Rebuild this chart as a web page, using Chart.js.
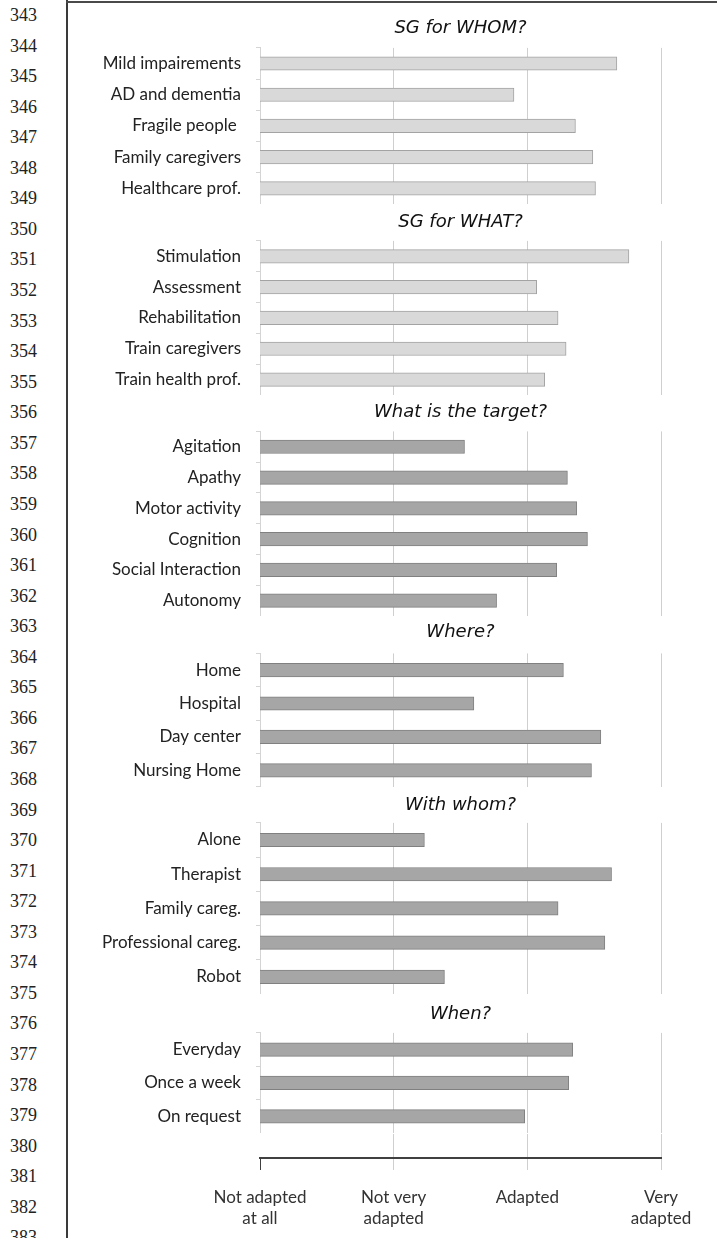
<!DOCTYPE html>
<html>
<head>
<meta charset="utf-8">
<title>Serious games - how adapted</title>
<script src="https://cdn.jsdelivr.net/npm/chart.js@4.4.0/dist/chart.umd.min.js"></script>
<style>
  html, body { margin: 0; padding: 0; background: #fff; }
  body { width: 717px; height: 1238px; position: relative; overflow: hidden; }
  .frame-left { position: absolute; left: 66px; top: 0; width: 2px; height: 1238px; background: #3a3a3a; }
  .frame-top { position: absolute; left: 66px; top: 1px; width: 651px; height: 2px; background: #4a4a4a; }
  .lineno { position: absolute; left: 10px; font: 18px "Liberation Serif", serif; color: #222; line-height: 20px; }
  canvas { position: absolute; left: 68px; }
</style>
</head>
<body>
<div class="frame-left"></div>
<div class="frame-top"></div>
<div id="numbers"></div>
<canvas id="whom"></canvas>
<canvas id="what"></canvas>
<canvas id="target"></canvas>
<canvas id="where"></canvas>
<canvas id="withwhom"></canvas>
<canvas id="when"></canvas>
<canvas id="axis"></canvas>
<script>
// scale: 1 = not adapted at all ... 4 = very adapted
const scaleValues = [1, 2, 3, 4];
const scaleLabels = [['Not adapted', 'at all'], ['Not very', 'adapted'], 'Adapted', ['Very', 'adapted']];

const whomLabels = ['Mild impairements', 'AD and dementia', 'Fragile people ', 'Family caregivers', 'Healthcare prof.'];
const whomValues = [3.67, 2.90, 3.36, 3.49, 3.51];

const whatLabels = ['Stimulation', 'Assessment', 'Rehabilitation', 'Train caregivers', 'Train health prof.'];
const whatValues = [3.76, 3.07, 3.23, 3.29, 3.13];

const targetLabels = ['Agitation', 'Apathy', 'Motor activity', 'Cognition', 'Social Interaction', 'Autonomy'];
const targetValues = [2.53, 3.30, 3.37, 3.45, 3.22, 2.77];

const whereLabels = ['Home', 'Hospital', 'Day center', 'Nursing Home'];
const whereValues = [3.27, 2.60, 3.55, 3.48];

const withWhomLabels = ['Alone', 'Therapist', 'Family careg.', 'Professional careg.', 'Robot'];
const withWhomValues = [2.23, 3.63, 3.23, 3.58, 2.38];

const whenLabels = ['Everyday', 'Once a week', 'On request'];
const whenValues = [3.34, 3.31, 2.98];

const CANVAS_W = 649;
const AXIS_W = 192;      // y label column, so plot starts at x=260
const RIGHT_PAD = 56;    // plot ends at x=661
const TITLE_LINE = 19.8;
const LABEL_FONT = { family: 'Lato', size: 17 };

const panels = [
  { id: 'whom', title: 'SG for WHOM?', labels: whomLabels, values: whomValues, light: true, titleY: 28, top: 48, step: 31.2 },
  { id: 'what', title: 'SG for WHAT?', labels: whatLabels, values: whatValues, light: true, titleY: 222, top: 241, step: 30.8 },
  { id: 'target', title: 'What is the target?', labels: targetLabels, values: targetValues, light: false, titleY: 412, top: 431.5, step: 30.8 },
  { id: 'where', title: 'Where?', labels: whereLabels, values: whereValues, light: false, titleY: 632, top: 653.5, step: 33.3 },
  { id: 'withwhom', title: 'With whom?', labels: withWhomLabels, values: withWhomValues, light: false, titleY: 805, top: 823, step: 34.25 },
  { id: 'when', title: 'When?', labels: whenLabels, values: whenValues, light: false, titleY: 1014, top: 1033, step: 33.5 }
];

function drawLineNumbers() {
  const box = document.getElementById('numbers');
  for (let n = 343; n <= 383; n++) {
    const div = document.createElement('div');
    div.className = 'lineno';
    div.textContent = n;
    div.style.top = (15 + (n - 343) * 30.56 - 10) + 'px';
    box.appendChild(div);
  }
}

function makePanel(panel) {
  const canvas = document.getElementById(panel.id);
  const canvasTop = panel.titleY - TITLE_LINE / 2;
  const height = panel.top - canvasTop + panel.step * panel.labels.length;
  canvas.width = CANVAS_W;
  canvas.height = Math.round(height);
  canvas.style.top = canvasTop + 'px';

  new Chart(canvas, {
    type: 'bar',
    data: {
      labels: panel.labels,
      datasets: [{
        data: panel.values,
        backgroundColor: panel.light ? '#d9d9d9' : '#a6a6a6',
        borderColor: panel.light ? '#a3a3a3' : '#808080',
        borderWidth: 1,
        borderSkipped: false,
        barThickness: 13.5
      }]
    },
    options: {
      indexAxis: 'y',
      responsive: false,
      animation: false,
      layout: { padding: { top: 0, right: RIGHT_PAD, bottom: 0, left: 0 } },
      plugins: {
        legend: { display: false },
        tooltip: { enabled: false },
        title: {
          display: true,
          text: panel.title,
          fullSize: false,
          color: '#111',
          font: { family: 'DejaVu Sans', style: 'italic', weight: 'normal', size: 18, lineHeight: 1.1 },
          padding: { top: 0, bottom: panel.top - panel.titleY - TITLE_LINE / 2 }
        }
      },
      scales: {
        x: {
          type: 'linear',
          min: 1,
          max: 4,
          ticks: { display: false, stepSize: 1 },
          border: { display: false },
          grid: {
            color: ctx => ctx.tick && ctx.tick.value === 1 ? 'rgba(0,0,0,0)' : '#cfcfcf',
            drawTicks: false
          },
          afterFit: scale => { scale.height = 0; }
        },
        y: {
          grid: { drawOnChartArea: false, tickLength: 4, color: '#d4d4d4', offset: true },
          border: { color: '#d4d4d4' },
          ticks: { color: '#222', padding: 15, font: LABEL_FONT },
          afterFit: scale => {
            scale.width = AXIS_W;
            // labels sit inside their bands, no extra room needed above/below
            scale.paddingTop = 0;
            scale.paddingBottom = 0;
          }
        }
      }
    }
  });
}

function makeAxis() {
  const canvas = document.getElementById('axis');
  canvas.width = CANVAS_W;
  canvas.height = 104;
  canvas.style.top = '1134px';

  new Chart(canvas, {
    type: 'bar',
    data: { labels: [''], datasets: [{ data: [] }] },
    options: {
      indexAxis: 'y',
      responsive: false,
      animation: false,
      layout: { padding: { top: 0, right: RIGHT_PAD, bottom: 0, left: AXIS_W } },
      plugins: { legend: { display: false }, tooltip: { enabled: false } },
      scales: {
        x: {
          type: 'linear',
          min: 1,
          max: 4,
          ticks: {
            stepSize: 1,
            autoSkip: false,
            maxRotation: 0,
            color: '#333',
            padding: 17,
            font: { family: 'Lato', size: 17, lineHeight: 1.25 },
            callback: v => scaleLabels[scaleValues.indexOf(v)]
          },
          grid: {
            color: ctx => ctx.index === 0 ? 'rgba(0,0,0,0)' : '#cfcfcf',
            tickColor: ctx => ctx.index === 0 ? '#404040' : '#cfcfcf',
            tickLength: 12
          },
          border: { color: '#404040', width: 2 },
          afterFit: scale => { scale.height = 80; }
        },
        y: { display: false }
      }
    }
  });
}

drawLineNumbers();
panels.forEach(makePanel);
makeAxis();
</script>
</body>
</html>
